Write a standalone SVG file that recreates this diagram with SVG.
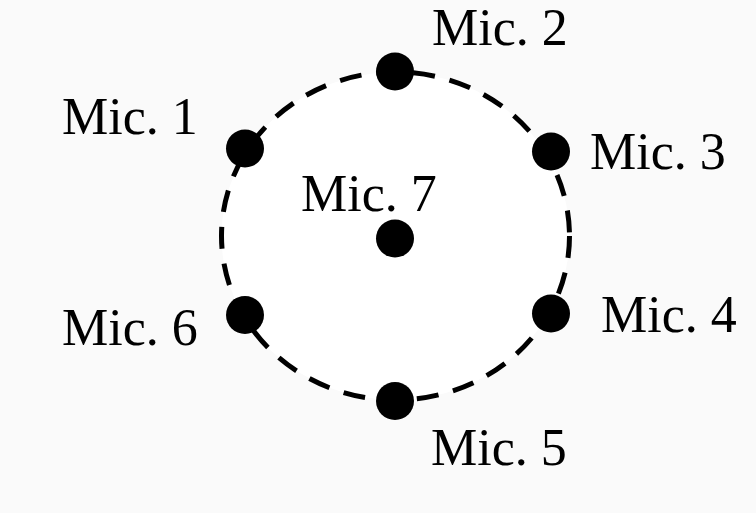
<svg xmlns="http://www.w3.org/2000/svg" width="756" height="513" viewBox="0 0 756 513">
<style>
.lbl{font-family:"Liberation Serif","Times New Roman",serif;font-size:52px;fill:#000}
.dot{fill:#000}
.ring{fill:#fff;stroke:#000;stroke-width:5;stroke-dasharray:22 15}
</style>
<rect width="756" height="513" fill="#fafafa"/>
<g id="connectors">
<ellipse class="ring" cx="395.5" cy="236" rx="174" ry="164"/>
</g>
<g id="mic1"><circle class="dot" cx="245" cy="148.5" r="19"/><text class="lbl" x="62" y="134">Mic. 1</text></g>
<g id="mic2"><circle class="dot" cx="395" cy="71.5" r="19"/><text class="lbl" x="432" y="45">Mic. 2</text></g>
<g id="mic3"><circle class="dot" cx="551" cy="151.5" r="19"/><text class="lbl" x="590" y="169">Mic. 3</text></g>
<g id="mic4"><circle class="dot" cx="551" cy="313.5" r="19"/><text class="lbl" x="601" y="331.5">Mic. 4</text></g>
<g id="mic5"><circle class="dot" cx="395" cy="401" r="19"/><text class="lbl" x="431" y="465">Mic. 5</text></g>
<g id="mic6"><circle class="dot" cx="245" cy="315" r="19"/><text class="lbl" x="62" y="345">Mic. 6</text></g>
<g id="mic7"><circle class="dot" cx="395" cy="238.5" r="19"/><text class="lbl" x="301" y="210.5">Mic. 7</text></g>
</svg>
